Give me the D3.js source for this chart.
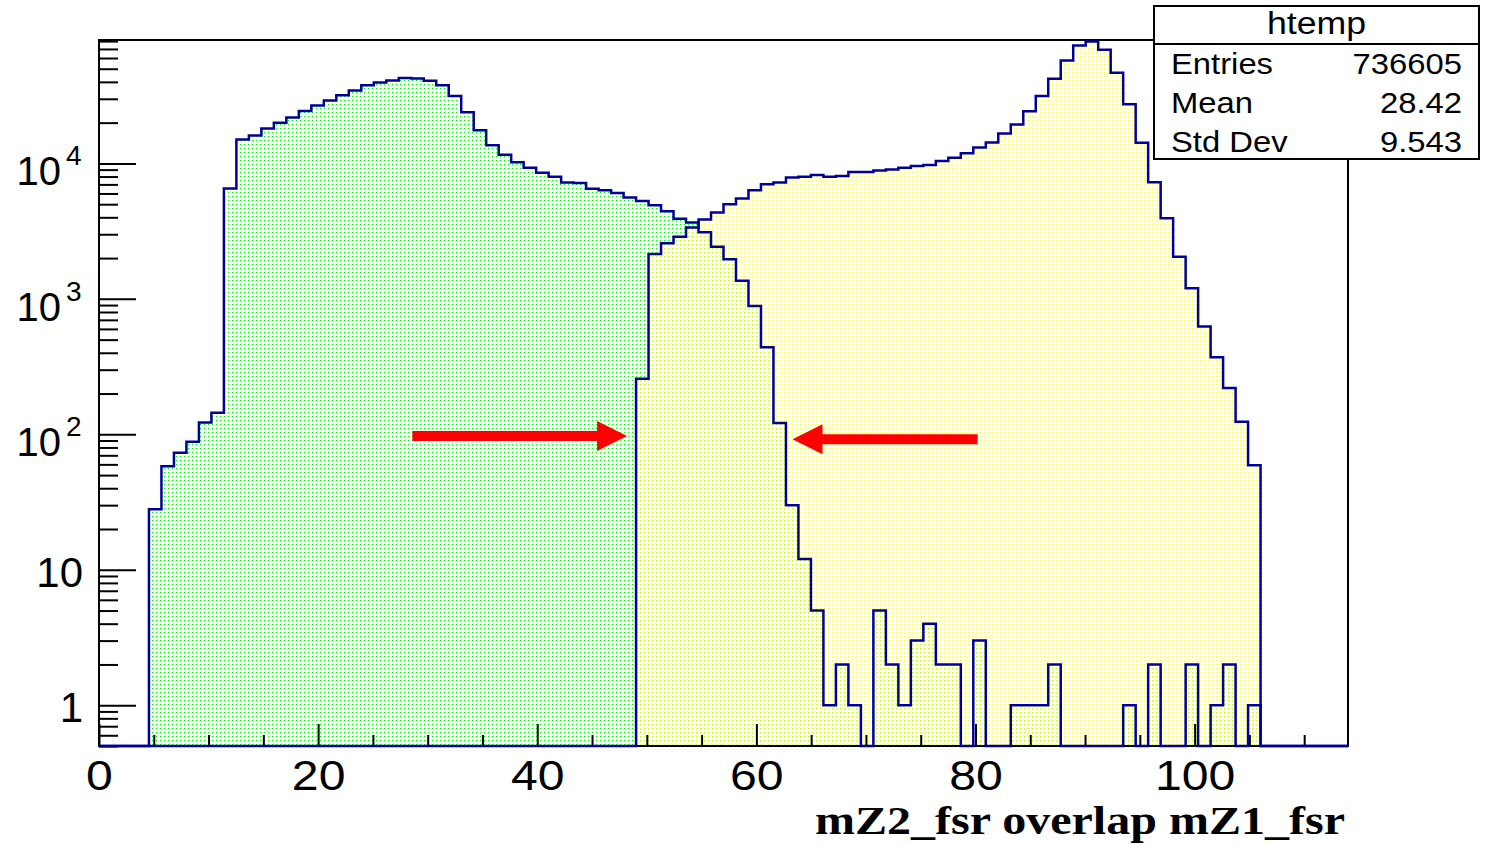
<!DOCTYPE html>
<html>
<head>
<meta charset="utf-8">
<script src="https://cdn.jsdelivr.net/npm/d3@7"></script>
<style>
body { margin: 0; background: #fff; }
text { font-family: "Liberation Sans", Arial, Helvetica, sans-serif; }
</style>
</head>
<body>
<div id="chart-area"></div>
<script>
// histogram binning (htemp: 100 bins)
var x_min = 0, x_max = 114, n_bins = 100;

// mZ2_fsr bin contents (green)
var mZ2_counts = [
	0, 0, 0, 0, 28, 58, 73, 88, 122, 144,
	6530, 15000, 16100, 18100, 20000, 21800, 24400, 26800, 29200, 31800,
	34600, 37700, 39500, 41000, 42700, 42400, 40800, 37700, 31400, 23900,
	17600, 13600, 11600, 10200, 9280, 8520, 7960, 7230, 7180, 6490,
	6340, 6060, 5610, 5270, 4920, 4440, 3900, 3670, 3100, 2430,
	1960, 1360, 887, 440, 121, 30, 12, 5, 1, 2,
	1, 0, 5, 2, 1, 3, 4, 2, 2, 0,
	3, 0, 0, 1, 1, 1, 2, 0, 0, 0,
	0, 0, 1, 0, 2, 0, 0, 2, 0, 1,
	2, 0, 1, 0, 0, 0, 0, 0, 0, 0
];

// mZ1_fsr bin contents (yellow)
var mZ1_counts = [
	0, 0, 0, 0, 0, 0, 0, 0, 0, 0,
	0, 0, 0, 0, 0, 0, 0, 0, 0, 0,
	0, 0, 0, 0, 0, 0, 0, 0, 0, 0,
	0, 0, 0, 0, 0, 0, 0, 0, 0, 0,
	0, 0, 0, 257, 2140, 2570, 2880, 3370, 3860, 4350,
	5000, 5510, 6340, 7030, 7230, 7870, 7960, 8230, 7960, 8090,
	8660, 8660, 8870, 9020, 9280, 9590, 9750, 10400, 11000, 11900,
	13100, 14300, 16600, 19400, 24300, 31400, 42200, 57600, 74300, 79500,
	69000, 46700, 27300, 14200, 7270, 3930, 2050, 1200, 624, 371,
	220, 124, 59, 0, 0, 0, 0, 0, 0, 0
];

var x_major = [0, 20, 40, 60, 80, 100];
var y_decades = [1, 10, 100, 1000, 10000];
var y_exponents = ["", "", "2", "3", "4"];

var stat_title = "htemp";
var stat_labels = ["Entries", "Mean", "Std Dev"];
var stat_values = ["736605", "28.42", "9.543"];

// red arrows (data coords)
var arrow_from = [28.6, 80.2];
var arrow_to = [48.2, 63.3];
var arrow_y = [97, 92];

var x_title = "mZ2_fsr overlap mZ1_fsr";

var width = 1488, height = 845;
var frame = {left: 99, right: 1348, top: 40, bottom: 746};
var line_col = "#000099";

var svg = d3.select("#chart-area").append("svg")
	.attr("width", width)
	.attr("height", height);

var x = d3.scaleLinear()
	.domain([x_min, x_max])
	.range([frame.left, frame.right]);

var y = d3.scaleLog()
	.domain([0.5, 81500])
	.range([frame.bottom, frame.top]);

var bin_w = (x_max - x_min) / n_bins;

// root fonts come out a bit wider than liberation sans
function stretch(sel, f){
	sel.each(function(){
		var w = this.getComputedTextLength();
		d3.select(this)
			.attr("textLength", w * f)
			.attr("lengthAdjust", "spacingAndGlyphs");
	});
}

// dotted fill patterns
var defs = svg.append("defs");
function dotPattern(id, col, op){
	var p = defs.append("pattern")
		.attr("id", id)
		.attr("width", 4)
		.attr("height", 4)
		.attr("patternUnits", "userSpaceOnUse");
	[[0, 0, 1], [1, 0, 0.2], [0, 1, 0.2]].forEach(function(c){
		p.append("rect")
			.attr("x", c[0]).attr("y", c[1])
			.attr("width", 1).attr("height", 1)
			.attr("shape-rendering", "crispEdges")
			.attr("fill", col)
			.attr("opacity", op * c[2]);
	});
}
dotPattern("dotsGreen", "#00ff00", 1);
dotPattern("dotsYellow", "#ffff00", 0.8);

function yv(v){
	return v > 0 ? y(v) : frame.bottom;
}

function stepLine(counts){
	var p = "M" + x(x_min) + "," + yv(counts[0]);
	counts.forEach(function(d, i){
		if (i > 0) p += "V" + yv(d);
		p += "H" + x(x_min + (i + 1) * bin_w);
	});
	return p;
}

function stepArea(counts){
	return "M" + x(x_min) + "," + frame.bottom + "V" + yv(counts[0]) +
		stepLine(counts).replace(/^M[^HV]*/, "") + "V" + frame.bottom + "Z";
}

svg.append("path")
	.attr("d", stepArea(mZ2_counts))
	.attr("fill", "url(#dotsGreen)");

svg.append("path")
	.attr("d", stepArea(mZ1_counts))
	.attr("fill", "url(#dotsYellow)");

// frame
svg.append("rect")
	.attr("x", frame.left)
	.attr("y", frame.top)
	.attr("width", frame.right - frame.left)
	.attr("height", frame.bottom - frame.top)
	.attr("fill", "none")
	.attr("stroke", "#000")
	.attr("stroke-width", 2);

// x axis ticks
var x_minor = d3.range(5, 115, 5).filter(function(d){ return x_major.indexOf(d) < 0; });

svg.append("g")
	.attr("transform", "translate(0," + frame.bottom + ")")
	.call(d3.axisBottom(x).tickValues(x_minor).tickSize(-11).tickFormat(""));

var xMajorAxis = svg.append("g")
	.attr("transform", "translate(0," + frame.bottom + ")")
	.call(d3.axisBottom(x).tickValues(x_major).tickSize(-22).tickPadding(13).tickFormat(d3.format("d")));

xMajorAxis.selectAll("text")
	.style("font-size", "43px")
	.attr("fill", "#000")
	.call(stretch, 1.12);

// y axis ticks (log)
var y_minor = [];
[0.1, 1, 10, 100, 1000, 10000].forEach(function(dec){
	for (var k = 2; k <= 9; k++) {
		var v = dec * k;
		if (v >= 0.5 && v <= 81500) y_minor.push(v);
	}
});

svg.append("g")
	.attr("transform", "translate(" + frame.left + ",0)")
	.call(d3.axisLeft(y).tickValues(y_minor).tickSize(-19).tickFormat(""));

svg.append("g")
	.attr("transform", "translate(" + frame.left + ",0)")
	.call(d3.axisLeft(y).tickValues(y_decades).tickSize(-37).tickFormat(""));

svg.selectAll(".domain").remove();
svg.selectAll(".tick line")
	.attr("stroke", "#000")
	.attr("stroke-width", 2);

// y labels
y_decades.forEach(function(d, i){
	var yy = y(d);
	if (y_exponents[i] === "") {
		svg.append("text")
			.attr("x", 83)
			.attr("y", yy + 17)
			.attr("text-anchor", "end")
			.style("font-size", "42px")
			.text(String(d));
	} else {
		svg.append("text")
			.attr("x", 61)
			.attr("y", yy + 22)
			.attr("text-anchor", "end")
			.style("font-size", "40px")
			.text("10");
		svg.append("text")
			.attr("x", 66)
			.attr("y", yy + 2)
			.style("font-size", "28px")
			.text(y_exponents[i]);
	}
});

// histogram outlines
svg.append("path")
	.attr("d", stepLine(mZ2_counts))
	.attr("fill", "none")
	.attr("stroke", line_col)
	.attr("stroke-width", 2.5);

svg.append("path")
	.attr("d", stepLine(mZ1_counts))
	.attr("fill", "none")
	.attr("stroke", line_col)
	.attr("stroke-width", 2.5);

// arrows
arrow_from.forEach(function(d, i){
	var x1 = x(d), x2 = x(arrow_to[i]), yc = y(arrow_y[i]);
	var dir = x2 > x1 ? 1 : -1;
	var hb = x2 - dir * 30;
	var pts = [[x1, yc - 5], [hb, yc - 5], [hb, yc - 15], [x2, yc],
		[hb, yc + 15], [hb, yc + 5], [x1, yc + 5]];
	svg.append("polygon")
		.attr("points", pts.map(function(p){ return p.join(","); }).join(" "))
		.attr("fill", "#ff0000");
});

// x title
svg.append("text")
	.attr("x", 1345)
	.attr("y", 834)
	.attr("text-anchor", "end")
	.style("font-family", "'Liberation Serif', 'Times New Roman', serif")
	.style("font-weight", "bold")
	.style("font-size", "40px")
	.text(x_title)
	.attr("textLength", 530)
	.attr("lengthAdjust", "spacingAndGlyphs");

// stat box
var box = {left: 1154, right: 1479, top: 6, bottom: 159, sep: 44};
svg.append("rect")
	.attr("x", box.left)
	.attr("y", box.top)
	.attr("width", box.right - box.left)
	.attr("height", box.bottom - box.top)
	.attr("fill", "#fff")
	.attr("stroke", "#000")
	.attr("stroke-width", 2);

svg.append("line")
	.attr("x1", box.left).attr("x2", box.right)
	.attr("y1", box.sep).attr("y2", box.sep)
	.attr("stroke", "#000")
	.attr("stroke-width", 2);

svg.append("text")
	.attr("x", (box.left + box.right) / 2)
	.attr("y", 34)
	.attr("text-anchor", "middle")
	.style("font-size", "31px")
	.text(stat_title)
	.call(stretch, 1.15);

var row_y = [74, 113, 152];
stat_labels.forEach(function(d, i){
	svg.append("text")
		.attr("x", 1171)
		.attr("y", row_y[i])
		.style("font-size", "29px")
		.text(d)
		.call(stretch, 1.13);
	svg.append("text")
		.attr("x", 1462)
		.attr("y", row_y[i])
		.attr("text-anchor", "end")
		.style("font-size", "29px")
		.text(stat_values[i])
		.call(stretch, 1.13);
});
</script>
</body>
</html>
